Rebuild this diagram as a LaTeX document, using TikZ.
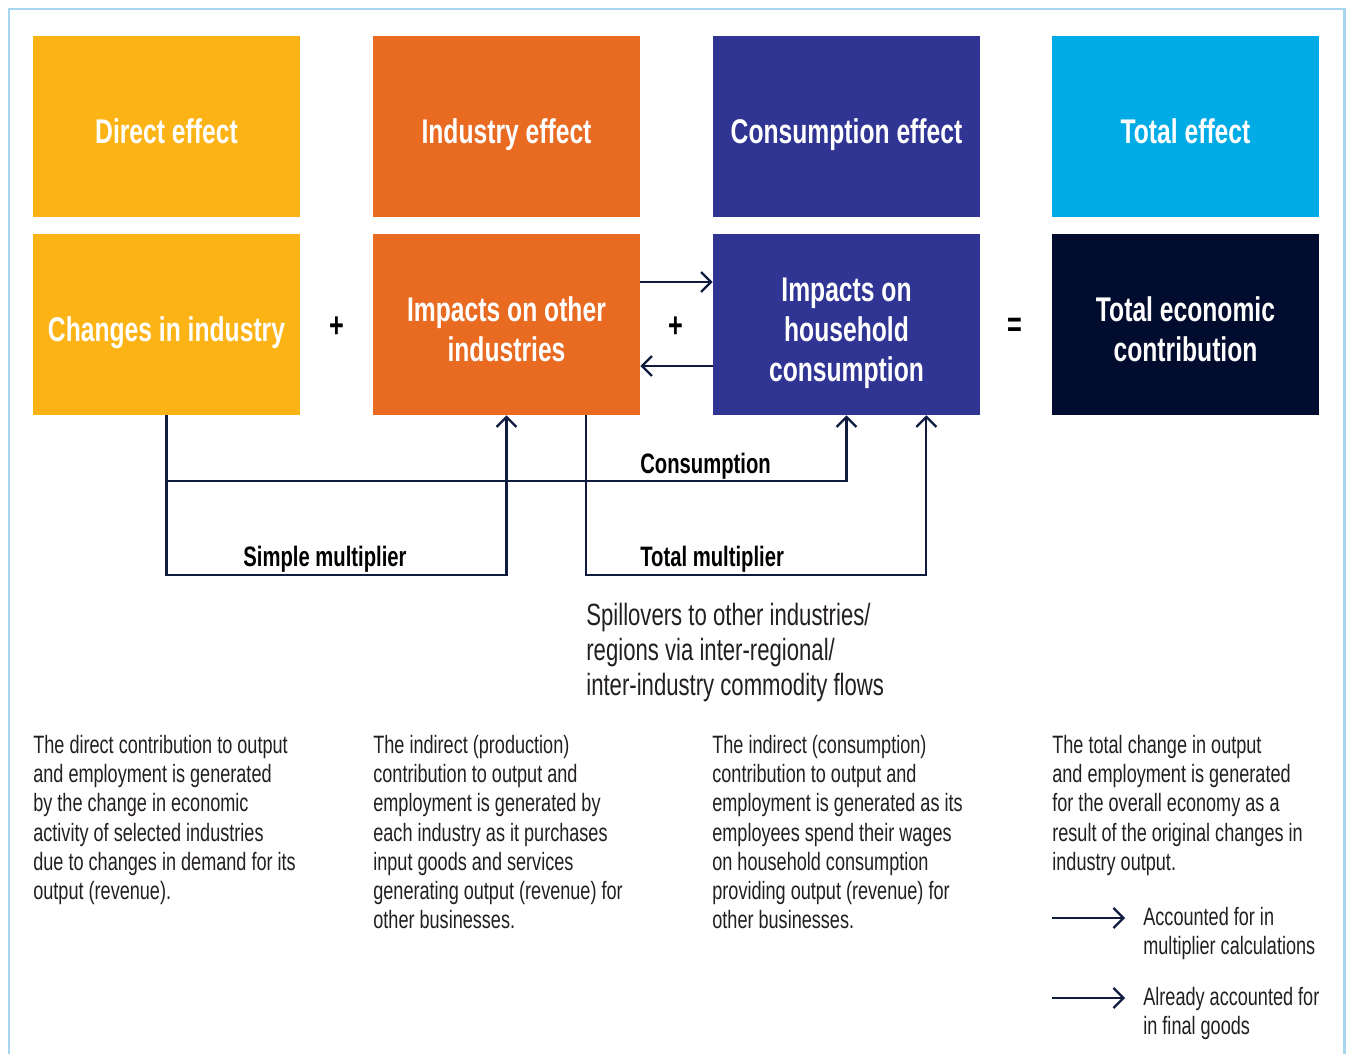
\documentclass[tikz,border=0pt]{standalone}
\usepackage{fontspec}
\setmainfont{Liberation Sans}[FakeStretch=0.72]
\usetikzlibrary{arrows.meta}
\definecolor{effyellow}{HTML}{FBB316}
\definecolor{efforange}{HTML}{E96B22}
\definecolor{effindigo}{HTML}{303594}
\definecolor{effcyan}{HTML}{00ABE6}
\definecolor{effnavy}{HTML}{020C2E}
\definecolor{linenavy}{HTML}{0F1B3F}
\definecolor{frameblue}{HTML}{A6D6F0}
\definecolor{bodygrey}{HTML}{231F20}
% struts for the first and last line of the box texts
\newcommand\boxtop{\rule{0pt}{23.7pt}}
\newcommand\boxbottom{\rule[-4.5pt]{0pt}{4.5pt}}
\begin{document}
\begin{tikzpicture}[x=0.02cm, y=-0.02cm,
    box/.style={minimum width=5.34cm, minimum height=3.62cm, inner sep=0pt, text=white, align=center,
        font=\fontsize{19.5}{22.7}\selectfont\bfseries},
    flow/.style={draw=linenavy, line width=1.3pt, -{Straight Barb[length=0.2cm, width=0.4cm]}},
    flowlabel/.style={inner sep=0pt, text=black, font=\fontsize{16}{19}\selectfont\bfseries},
    sign/.style={inner sep=0pt, text=black, font=\fontsize{20}{22}\selectfont\bfseries},
    bodytext/.style={inner sep=0pt, anchor=north west, align=left, text=bodygrey,
        font=\fontsize{14.3}{16.6}\selectfont}]
    \useasboundingbox (0,0) rectangle (1351,1054);
    \draw[frameblue, line width=1.7pt] (9,1054) -- (9,9) -- (1344,9) -- (1344,1054);

    % Header row
    \node[box, fill=effyellow] (direct) at (166.5,126.5) {\boxtop Direct effect\boxbottom};
    \node[box, fill=efforange] (industry) at (506.5,126.5) {\boxtop Industry effect\boxbottom};
    \node[box, fill=effindigo] (consumption) at (846.5,126.5) {\boxtop Consumption effect\boxbottom};
    \node[box, fill=effcyan] (total) at (1185.5,126.5) {\boxtop Total effect\boxbottom};

    % Second row
    \node[box, fill=effyellow] (changes) at (166.5,324.5) {\boxtop Changes in industry\boxbottom};
    \node[box, fill=efforange] (impacts) at (506.5,324.5) {\boxtop Impacts on other\\industries\boxbottom};
    \node[box, fill=effindigo] (household) at (846.5,324.5) {\boxtop Impacts on\\household\\consumption\boxbottom};
    \node[box, fill=effnavy] (contribution) at (1185.5,324.5) {\boxtop Total economic\\contribution\boxbottom};
    \node[sign] (plusa) at (337,327) {+};
    \node[sign] (plusb) at (676,327) {+};
    \node[sign] (equals) at (1015,327) {=};

    % Flows between the boxes
    \draw[flow] ([yshift=0.85cm]impacts.east) -- ([yshift=0.85cm]household.west);
    \draw[flow] ([yshift=-0.83cm]household.west) -- ([yshift=-0.83cm]impacts.east);
    \draw[flow] (changes.south) -- (changes.south |- 0,575) -| (impacts.south);
    \draw[flow] (changes.south |- 0,481) -| (household.south);
    \draw[flow] ([xshift=-1.08cm]impacts.south east) -- ([xshift=-1.08cm]impacts.south east |- 0,575)
        -| ([xshift=-1.08cm]household.south east);
    \node[flowlabel, anchor=base] (simple) at (325,566) {Simple multiplier};
    \node[flowlabel, anchor=base west] (consumed) at (640,473) {Consumption};
    \node[flowlabel, anchor=base west] (totalmult) at (640,566) {Total multiplier};
    \node[bodytext, font=\fontsize{17.5}{19.8}\selectfont] (spill) at (586,603)
        {Spillovers to other industries/\\regions via inter-regional/\\inter-industry commodity flows};

    % Descriptions
    \node[bodytext] (directtext) at (33,735) {The direct contribution to output\\and employment is generated\\by the change in economic\\activity of selected industries\\due to changes in demand for its\\output (revenue).};
    \node[bodytext] (industrytext) at (373,735) {The indirect (production)\\contribution to output and\\employment is generated by\\each industry as it purchases\\input goods and services\\generating output (revenue) for\\other businesses.};
    \node[bodytext] (consumptiontext) at (712,735) {The indirect (consumption)\\contribution to output and\\employment is generated as its\\employees spend their wages\\on household consumption\\providing output (revenue) for\\other businesses.};
    \node[bodytext] (totaltext) at (1052,735) {The total change in output\\and employment is generated\\for the overall economy as a\\result of the original changes in\\industry output.};

    % Legend
    \coordinate (accstart) at (1052,918);
    \coordinate (accend) at (1125,918);
    \coordinate (finalstart) at (1052,998);
    \coordinate (finalend) at (1125,998);
    \draw[flow] (accstart) -- (accend);
    \draw[flow] (finalstart) -- (finalend);
    \node[bodytext] (acctext) at (1143,907) {Accounted for in\\multiplier calculations};
    \node[bodytext] (finaltext) at (1143,987) {Already accounted for\\in final goods};
\end{tikzpicture}
\end{document}
